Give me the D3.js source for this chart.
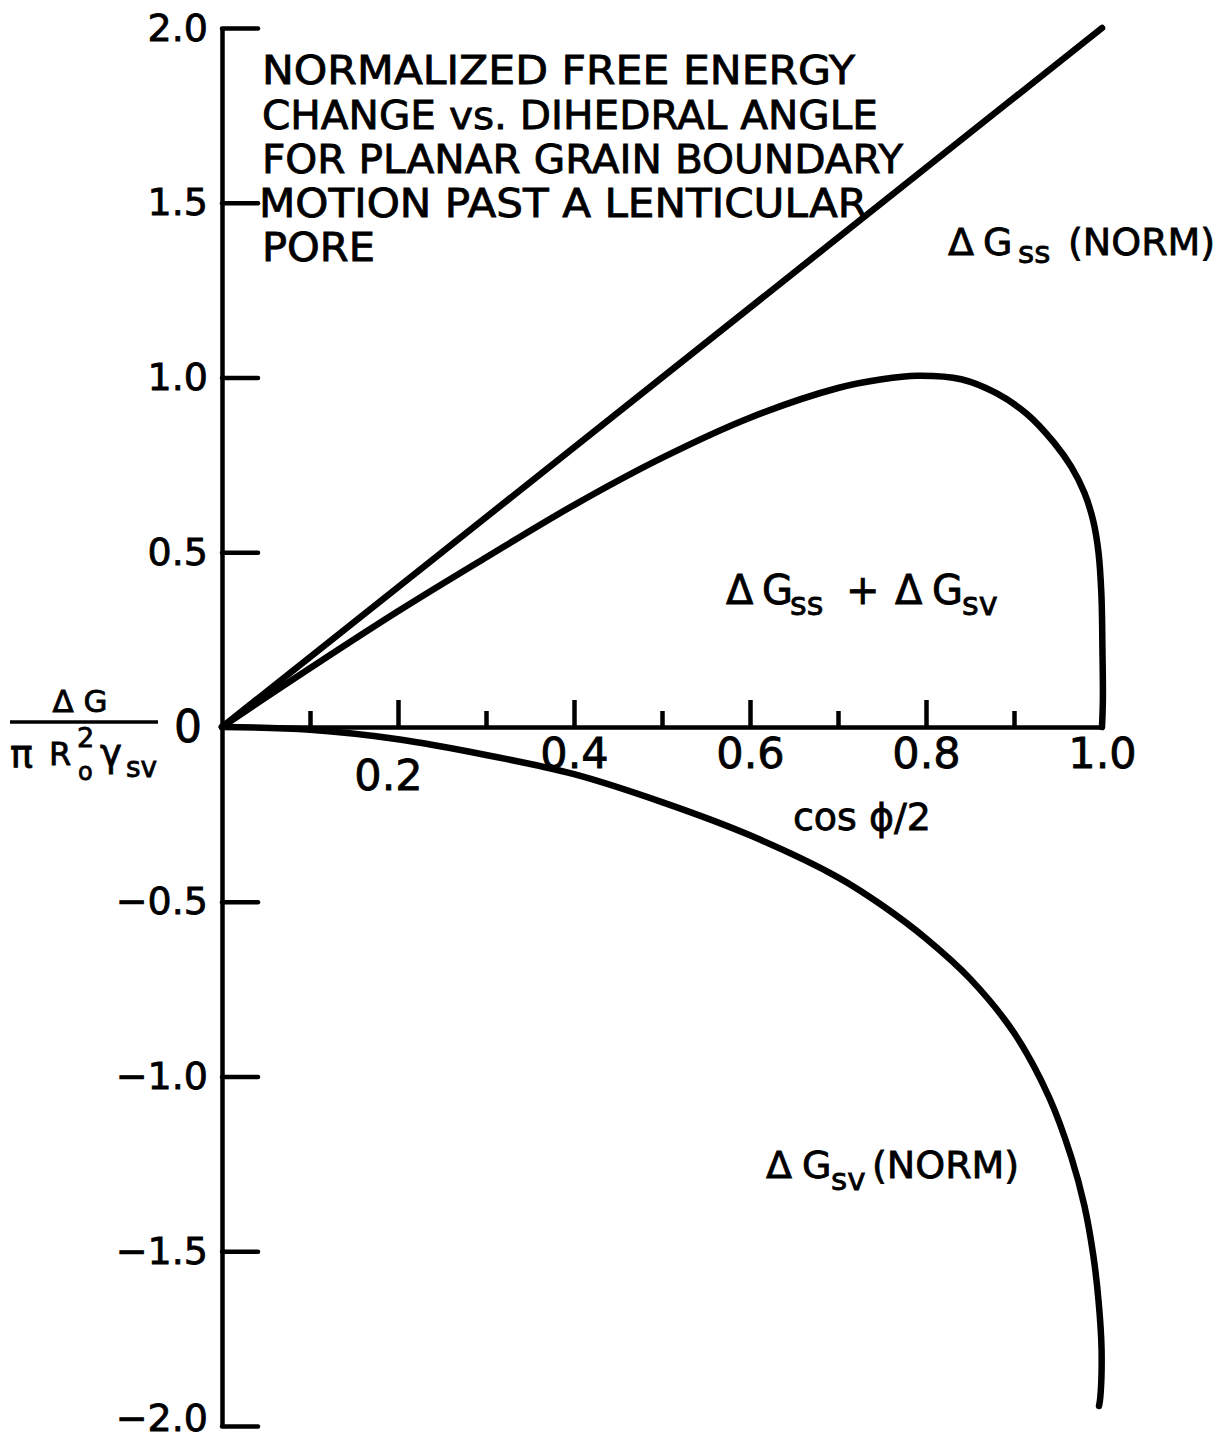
<!DOCTYPE html>
<html>
<head>
<meta charset="utf-8">
<script src="https://cdn.jsdelivr.net/npm/d3@7"></script>
<style>
  body { margin: 0; background: #fff; }
  svg { display: block; }
  text { font-family: "DejaVu Sans", sans-serif; fill: #000; stroke: #000; stroke-width: 0.8px; }
</style>
</head>
<body>
<svg id="chart" width="1227" height="1439"></svg>
<script>
// Abscissa: cos(phi/2); ordinate: normalized free energy change
const gssX = [0, 1.0];
const gssY = [0, 2.0];

const gsvX = [0, 0.1, 0.2, 0.3, 0.4, 0.5, 0.6, 0.7, 0.75, 0.8, 0.85, 0.9, 0.94, 0.965, 0.98, 0.99, 0.996, 0.9995, 0.998, 0.9966];
const gsvY = [0, -0.008, -0.035, -0.08, -0.135, -0.215, -0.31, -0.43, -0.51, -0.605, -0.72, -0.875, -1.06, -1.23, -1.37, -1.51, -1.64, -1.78, -1.92, -1.943];

const sumX = [0, 0.077, 0.2, 0.3, 0.4, 0.5, 0.6, 0.7, 0.75, 0.79, 0.84, 0.88, 0.915, 0.945, 0.965, 0.98, 0.99, 0.996, 0.9993, 1.0005, 1.001, 1.0];
const sumY = [0, 0.13, 0.331, 0.485, 0.635, 0.77, 0.885, 0.97, 0.995, 1.005, 0.995, 0.955, 0.895, 0.815, 0.745, 0.67, 0.59, 0.50, 0.38, 0.22, 0.08, 0];

const xMajorTicks = [0.2, 0.4, 0.6, 0.8, 1.0];
const xMinorTicks = [0.1, 0.3, 0.5, 0.7, 0.9];
const xTickLabels = ["0.2", "0.4", "0.6", "0.8", "1.0"];
const yTicks = [2.0, 1.5, 1.0, 0.5, 0, -0.5, -1.0, -1.5, -2.0];
const yTickLabels = ["2.0", "1.5", "1.0", "0.5", "0", "\u22120.5", "\u22121.0", "\u22121.5", "\u22122.0"];
const titleLines = [
  "NORMALIZED FREE ENERGY",
  "CHANGE vs. DIHEDRAL ANGLE",
  "FOR PLANAR GRAIN BOUNDARY",
  "MOTION PAST A LENTICULAR",
  "PORE"
];

const svg = d3.select("#chart");
svg.append("rect").attr("width", 1227).attr("height", 1439).attr("fill", "#fff");

const x = d3.scaleLinear().domain([0, 1]).range([222, 1102]);
const y = d3.scaleLinear().domain([-2, 2]).range([1426, 28]);
const axisY0 = y(0);

// ---- y axis: ticks point inward, labels on the left
const yAxis = d3.axisLeft(y)
  .tickValues(yTicks)
  .tickSizeInner(-36)
  .tickSizeOuter(0)
  .tickPadding(14)
  .tickFormat((d, i) => yTickLabels[i]);
const gy = svg.append("g").attr("transform", `translate(${x(0)},0)`).call(yAxis);
gy.select(".domain").attr("stroke", "#000").attr("stroke-width", 4.5);
gy.selectAll(".tick line").attr("stroke", "#000").attr("stroke-width", 4.5).attr("stroke-linecap", "round");
gy.selectAll(".tick text").attr("font-size", 38).attr("fill", "#000");
gy.selectAll(".tick").filter(d => d === 0).select("text").attr("font-size", 44).attr("x", -20);
gy.selectAll(".tick").filter(d => d === -2).select("text").attr("transform", "translate(0,-8)");

// ---- x axis: major and minor ticks pointing up
const xAxis = d3.axisBottom(x)
  .tickValues(xMajorTicks)
  .tickSizeInner(-27)
  .tickSizeOuter(0)
  .tickPadding(10)
  .tickFormat((d, i) => xTickLabels[i]);
const gx = svg.append("g").attr("transform", `translate(0,${axisY0})`).call(xAxis);
gx.select(".domain").attr("stroke", "#000").attr("stroke-width", 4.5);
gx.selectAll(".tick line").attr("stroke", "#000").attr("stroke-width", 4.5);
gx.selectAll(".tick text").attr("font-size", 43).attr("fill", "#000");
// the 0.2 label sits below the lower curve
gx.selectAll(".tick").filter(d => d === 0.2).select("text")
  .attr("transform", "translate(-10,22)");
gx.selectAll(".tick").filter(d => d === 1.0).select("line").remove();

const gxMinor = svg.append("g").attr("transform", `translate(0,${axisY0})`)
  .call(d3.axisBottom(x).tickValues(xMinorTicks).tickSizeInner(-16).tickSizeOuter(0).tickFormat(""));
gxMinor.select(".domain").remove();
gxMinor.selectAll(".tick line").attr("stroke", "#000").attr("stroke-width", 4.5);

// ---- curves
const line = d3.line()
  .x(d => x(d[0]))
  .y(d => y(d[1]))
  .curve(d3.curveCatmullRom.alpha(0.5));

const curves = [
  d3.zip(gssX, gssY),
  d3.zip(sumX, sumY),
  d3.zip(gsvX, gsvY)
];
svg.append("g").selectAll("path").data(curves).join("path")
  .attr("d", d => line(d))
  .attr("fill", "none")
  .attr("stroke", "#000")
  .attr("stroke-width", 6.5)
  .attr("stroke-linecap", "round")
  .attr("stroke-linejoin", "round");

// ---- title block
const titleBaselines = [84, 129, 173, 217, 261];
const titleWidths = [593, 616, 641, 608, 113];
svg.append("g").selectAll("text").data(titleLines).join("text")
  .attr("x", (d, i) => i === 3 ? 259 : 262)
  .attr("y", (d, i) => titleBaselines[i])
  .attr("font-size", 39)
  .attr("textLength", (d, i) => titleWidths[i])
  .attr("lengthAdjust", "spacingAndGlyphs")
  .text(d => d);

// ---- curve labels (Δ G with subscripts)
function curveLabel(parts, baseline, size, subSize, subDrop) {
  const t = svg.append("text").attr("y", baseline).attr("font-size", size);
  parts.forEach(p => {
    t.append("tspan")
      .attr("x", p.x)
      .attr("y", p.sub ? baseline + subDrop : baseline)
      .attr("font-size", p.sub ? subSize : size)
      .text(p.t);
  });
}
curveLabel([
  { t: "\u0394", x: 948 }, { t: "G", x: 983 }, { t: "ss", x: 1018, sub: true }, { t: "(NORM)", x: 1068 }
], 255, 38, 31, 8);

curveLabel([
  { t: "\u0394", x: 726 }, { t: "G", x: 762 }, { t: "ss", x: 790, sub: true },
  { t: "+", x: 846 }, { t: "\u0394", x: 895 }, { t: "G", x: 932 }, { t: "sv", x: 962, sub: true }
], 604, 40, 32, 11);

curveLabel([
  { t: "\u0394", x: 766 }, { t: "G", x: 802 }, { t: "sv", x: 831, sub: true }, { t: "(NORM)", x: 872 }
], 1178, 38, 31, 12);

// ---- axis titles
svg.append("text").attr("x", 862).attr("y", 830).attr("text-anchor", "middle")
  .attr("font-size", 38).text("cos \u03D5/2");

// y title as a fraction: ΔG / (π R0² γsv)
const fy = svg.append("g");
fy.append("text").attr("x", 80).attr("y", 712).attr("text-anchor", "middle")
  .attr("font-size", 31).text("\u0394 G");
fy.append("line").attr("x1", 10).attr("x2", 158).attr("y1", 722).attr("y2", 722)
  .attr("stroke", "#000").attr("stroke-width", 3.5);
fy.append("text").attr("x", 10).attr("y", 767).attr("font-size", 38).text("\u03C0");
fy.append("text").attr("x", 49).attr("y", 765).attr("font-size", 32).text("R");
fy.append("text").attr("x", 78).attr("y", 780).attr("font-size", 24).text("o");
fy.append("text").attr("x", 77).attr("y", 747).attr("font-size", 27).text("2");
fy.append("text").attr("x", 100).attr("y", 766).attr("font-size", 37).text("\u03B3");
fy.append("text").attr("x", 126).attr("y", 777).attr("font-size", 28).text("sv");
</script>
</body>
</html>
